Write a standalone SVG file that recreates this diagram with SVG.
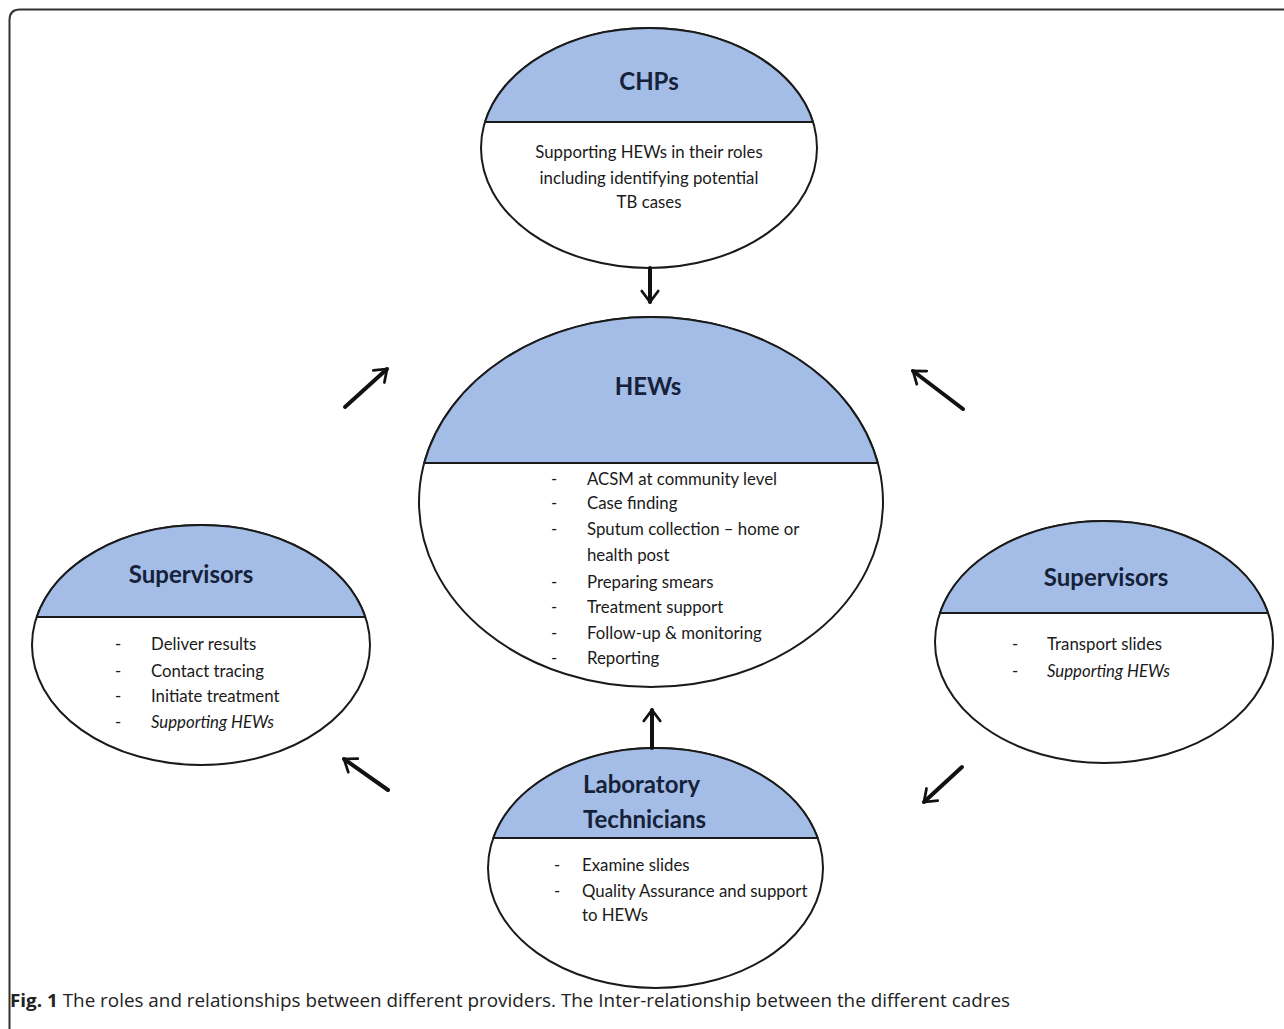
<svg xmlns="http://www.w3.org/2000/svg" width="1284" height="1029" viewBox="0 0 1284 1029">
<defs>
<style>
.shell{fill:#ffffff;stroke:#1a1a1a;stroke-width:2}
.cap{fill:#a3bde6;stroke:#1a1a1a;stroke-width:2;stroke-linejoin:round}
.title{font-family:Lato,"Open Sans","Liberation Sans",sans-serif;font-weight:bold;font-size:24px;fill:#16213a}
.body{font-family:Lato,"Open Sans","Liberation Sans",sans-serif;font-size:16.8px;fill:#1a1a1a}
.mid{text-anchor:middle}
.it{font-style:italic}
.conn{stroke:#111;stroke-width:4;fill:none;stroke-linecap:round}
.cap-text{font-family:"Open Sans","Liberation Sans",sans-serif;font-size:18px;fill:#222}
</style>
<marker id="ah" viewBox="0 0 12 12" refX="9" refY="6" markerWidth="5.5" markerHeight="5.5" markerUnits="strokeWidth" orient="auto">
<polyline points="3,1.5 9,6 3,10.5" fill="none" stroke="#111" stroke-width="1.5" stroke-linecap="round" stroke-linejoin="miter"/>
</marker>
</defs>
<rect width="1284" height="1029" fill="#ffffff"/>
<path d="M 9.5 1032 V 20 Q 9.5 9.5 20 9.5 H 1290" fill="none" stroke="#333" stroke-width="2"/>

<g id="node-chps">
<ellipse class="shell" cx="649" cy="148" rx="168" ry="120"/>
<path class="cap" d="M 485 122 A 168 120 0 0 1 813 122 Z"/>
<text class="title mid" x="649" y="90">CHPs</text>
<text class="body mid" x="649" y="158">Supporting HEWs in their roles</text>
<text class="body mid" x="649" y="184">including identifying potential</text>
<text class="body mid" x="649" y="208">TB cases</text>
</g>

<g id="node-hews">
<ellipse class="shell" cx="651" cy="502" rx="232" ry="185"/>
<path class="cap" d="M 424.2 463 A 232 185 0 0 1 877.8 463 Z"/>
<text class="title mid" x="648" y="395">HEWs</text>
<g class="body">
<text class="mid" x="554" y="485">-</text><text x="587" y="485">ACSM at community level</text>
<text class="mid" x="554" y="509">-</text><text x="587" y="509">Case finding</text>
<text class="mid" x="554" y="535">-</text><text x="587" y="535">Sputum collection – home or</text>
<text x="587" y="561">health post</text>
<text class="mid" x="554" y="588">-</text><text x="587" y="588">Preparing smears</text>
<text class="mid" x="554" y="613">-</text><text x="587" y="613">Treatment support</text>
<text class="mid" x="554" y="639">-</text><text x="587" y="639">Follow-up &amp; monitoring</text>
<text class="mid" x="554" y="664">-</text><text x="587" y="664">Reporting</text>
</g>
</g>

<g id="node-supervisors-left">
<ellipse class="shell" cx="201" cy="645" rx="169" ry="120"/>
<path class="cap" d="M 36.7 617 A 169 120 0 0 1 365.3 617 Z"/>
<text class="title mid" x="191" y="583">Supervisors</text>
<g class="body">
<text class="mid" x="118" y="650">-</text><text x="151" y="650">Deliver results</text>
<text class="mid" x="118" y="677">-</text><text x="151" y="677">Contact tracing</text>
<text class="mid" x="118" y="702">-</text><text x="151" y="702">Initiate treatment</text>
<text class="mid" x="118" y="728">-</text><text class="it" x="151" y="728">Supporting HEWs</text>
</g>
</g>

<g id="node-supervisors-right">
<ellipse class="shell" cx="1104" cy="642" rx="169" ry="121"/>
<path class="cap" d="M 939.9 613 A 169 121 0 0 1 1268.1 613 Z"/>
<text class="title mid" x="1106" y="586">Supervisors</text>
<g class="body">
<text class="mid" x="1015" y="650">-</text><text x="1047" y="650">Transport slides</text>
<text class="mid" x="1015" y="677">-</text><text class="it" x="1047" y="677">Supporting HEWs</text>
</g>
</g>

<g id="node-lab">
<ellipse class="shell" cx="655.5" cy="868" rx="167.5" ry="120"/>
<path class="cap" d="M 493.3 838 A 167.5 120 0 0 1 817.7 838 Z"/>
<text class="title" x="583" y="793">Laboratory</text>
<text class="title" x="583" y="828">Technicians</text>
<g class="body">
<text class="mid" x="557" y="871">-</text><text x="582" y="871">Examine slides</text>
<text class="mid" x="557" y="897">-</text><text x="582" y="897">Quality Assurance and support</text>
<text x="582" y="921">to HEWs</text>
</g>
</g>

<g id="connectors">
<line class="conn" x1="650" y1="268" x2="650" y2="302" marker-end="url(#ah)"/>
<line class="conn" x1="652" y1="748" x2="652" y2="710" marker-end="url(#ah)"/>
<line class="conn" x1="345" y1="407" x2="387" y2="369" marker-end="url(#ah)"/>
<line class="conn" x1="963" y1="409" x2="913" y2="371" marker-end="url(#ah)"/>
<line class="conn" x1="388" y1="790" x2="344" y2="759" marker-end="url(#ah)"/>
<line class="conn" x1="962" y1="767" x2="924" y2="802" marker-end="url(#ah)"/>
</g>

<text class="cap-text" x="10" y="1007" textLength="1000" lengthAdjust="spacingAndGlyphs"><tspan font-weight="bold">Fig. 1</tspan> The roles and relationships between different providers. The Inter-relationship between the different cadres</text>
</svg>
